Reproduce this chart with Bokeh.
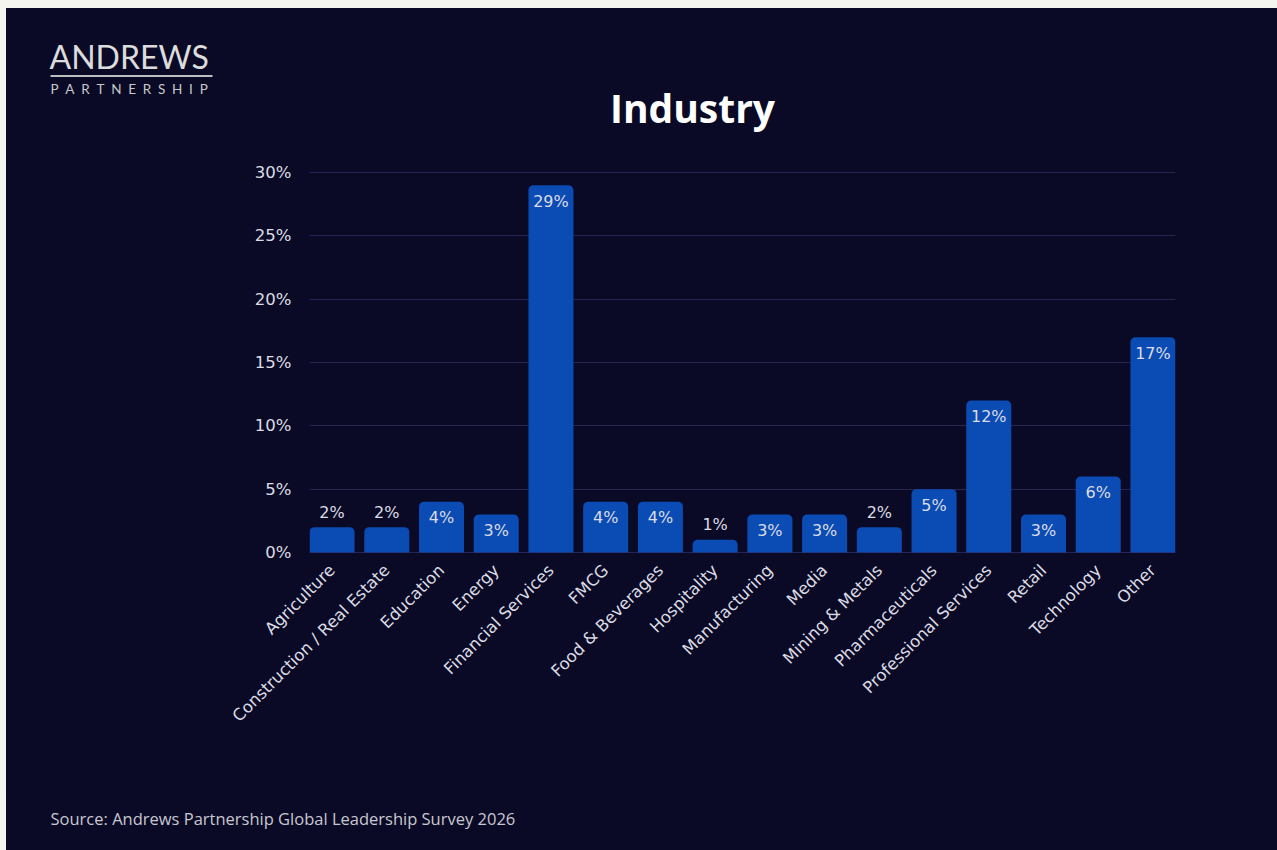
from bokeh.plotting import figure
from bokeh.models import (ColumnDataSource, FactorRange, Range1d, Label,
                          PrintfTickFormatter, FixedTicker, Column)
from bokeh.core.properties import value
from bokeh.embed import file_html
from bokeh.resources import INLINE
import math

categories = ["Agriculture", "Construction / Real Estate", "Education", "Energy",
              "Financial Services", "FMCG", "Food & Beverages", "Hospitality",
              "Manufacturing", "Media", "Mining & Metals", "Pharmaceuticals",
              "Professional Services", "Retail", "Technology", "Other"]
shares = [2, 2, 4, 3, 29, 4, 4, 1, 3, 3, 2, 5, 12, 3, 6, 17]
y_ticks = [0, 5, 10, 15, 20, 25, 30]

title_text = "Industry"
source_text = "Source: Andrews Partnership Global Leadership Survey 2026"
logo_top = "ANDREWS"
logo_bottom = "\u2002".join("PARTNERSHIP")

BG = "#0a0a26"
BAR = "#0a4bb4"
TXT = "#dcdce4"
FONT = "DejaVu Sans"

labels = [f"{v}%" for v in shares]
offsets = [-15 if v < 3 else 16 for v in shares]
src = ColumnDataSource(dict(cat=categories, val=shares, lab=labels, off=offsets))

W = 1271
TOP_H, CHART_H, BOT_H = 150, 632, 60
FL = 303          # frame left inside the chart figure
FRAME_TOP = 13    # page y 171
FRAME_BOT = 395   # page y 553


def text_panel(y0, h):
    # a text-only panel whose data coordinates equal page pixels
    f = figure(width=W, height=h, output_backend="svg", toolbar_location=None,
               x_range=Range1d(6, 6 + W), y_range=Range1d(y0 + h, y0),
               min_border=0, background_fill_color=BG, border_fill_color=BG,
               frame_align=False)
    f.axis.visible = False
    f.grid.visible = False
    f.outline_line_color = None
    return f


# --- header (page y 8..158) ---
top = text_panel(8, TOP_H)
top.add_layout(Label(x=692, y=107, text=title_text, text_align="center",
                     text_baseline="middle", text_font="Open Sans", text_font_style="bold",
                     text_font_size="39px", text_color="#ffffff"))
top.add_layout(Label(x=49, y=56, text=logo_top, text_align="left",
                     text_baseline="middle", text_font="Lato", text_font_size="32px",
                     text_color="#dcdcdc"))
top.add_layout(Label(x=50, y=88, text=logo_bottom, text_align="left",
                     text_baseline="middle", text_font="Lato", text_font_size="13.5px",
                     text_color="#c8c8c8"))
top.segment(x0=[50], y0=[75.5], x1=[212], y1=[75.5], line_color="#bdbdbd", line_width=2)

# --- chart ---
p = figure(width=W, height=CHART_H, output_backend="svg", toolbar_location=None,
           x_range=FactorRange(factors=categories, range_padding=-0.088,
                               range_padding_units="absolute"),
           y_range=Range1d(-0.08, 30.08),
           min_border_left=FL, min_border_right=W - 1169,
           min_border_top=FRAME_TOP, min_border_bottom=CHART_H - FRAME_BOT,
           background_fill_color=BG, border_fill_color=BG, frame_align=False)
p.outline_line_color = None

p.vbar(x="cat", top="val", width=0.823, source=src, fill_color=BAR,
       line_color=None, border_radius=(5, 5, 0, 0))
p.text(x="cat", y="val", text="lab", y_offset="off", source=src,
       text_align="center", text_baseline="middle", text_color=TXT,
       text_font=value(FONT), text_font_size="16px")

p.xgrid.grid_line_color = None
p.ygrid.grid_line_color = "#282550"
p.ygrid.grid_line_width = 1.2
p.ygrid.ticker = FixedTicker(ticks=y_ticks)
p.ygrid.level = "underlay"

p.yaxis.ticker = FixedTicker(ticks=y_ticks)
p.yaxis.formatter = PrintfTickFormatter(format="%d%%")
for ax in (p.xaxis[0], p.yaxis[0]):
    ax.axis_line_color = None
    ax.major_tick_line_color = None
    ax.minor_tick_line_color = None
    ax.major_label_text_color = TXT
    ax.major_label_text_font = FONT
    ax.major_label_text_font_size = "16.5px"
p.yaxis.major_label_standoff = 12
p.xaxis.major_label_orientation = math.pi / 4
p.xaxis.major_label_standoff = 8

# --- footer (page y 790..850) ---
bot = text_panel(790, BOT_H)
bot.add_layout(Label(x=50, y=818, text=source_text, text_align="left",
                     text_baseline="middle", text_font="Open Sans", text_font_size="16.5px",
                     text_color="#c8c8d0"))

inner = Column(children=[top, p, bot], spacing=0, margin=(8, 0, 0, 6),
               styles={"background-color": BG})
root = Column(children=[inner], width=1277, height=850, margin=0,
              styles={"background-color": "#f5f5ef"})
open("out.html", "w").write(file_html(root, INLINE))
